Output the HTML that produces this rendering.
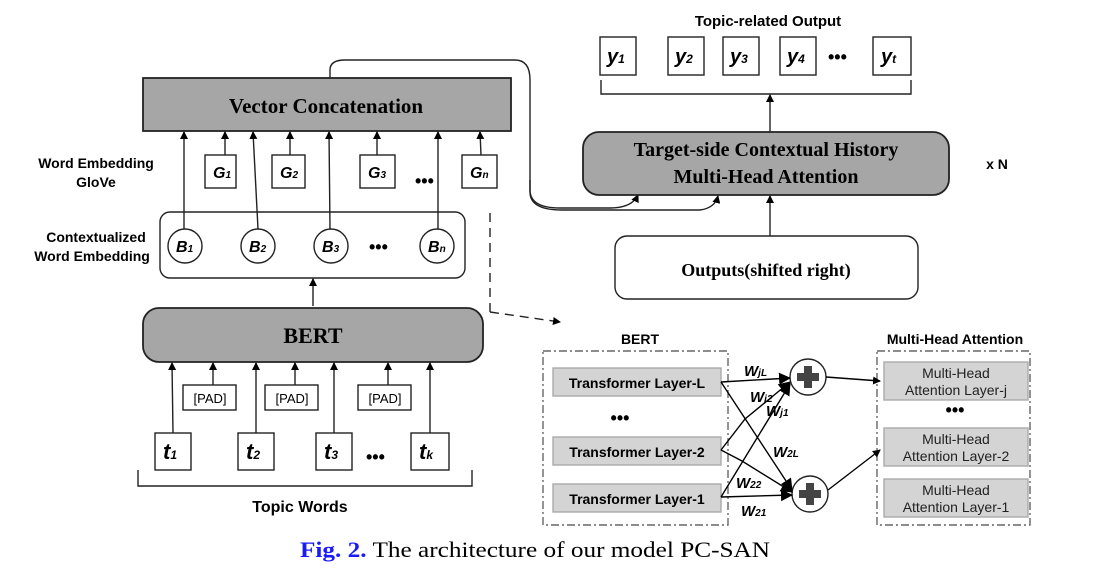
<!DOCTYPE html>
<html><head><meta charset="utf-8"><style>
html,body{margin:0;padding:0;background:#fff;}
svg{display:block;}
.s{font-family:"Liberation Sans",sans-serif;font-weight:bold;}
.t{font-family:"Liberation Serif",serif;font-weight:bold;}
.i{font-family:"Liberation Sans",sans-serif;font-weight:bold;font-style:italic;}
</style></head><body>
<svg width="1120" height="575" viewBox="0 0 1120 575" xmlns="http://www.w3.org/2000/svg">
<defs>
<marker id="a" markerWidth="8" markerHeight="8" refX="7" refY="4" orient="auto" markerUnits="userSpaceOnUse"><path d="M0,0 L8,4 L0,8 z" fill="#000"/></marker>
<marker id="b" markerWidth="12" markerHeight="12" refX="11" refY="6" orient="auto" markerUnits="userSpaceOnUse"><path d="M0,0 L12,6 L0,12 z" fill="#000"/></marker>
</defs>
<g stroke="#222" stroke-width="1.4" fill="none">
<rect x="143" y="78" width="368" height="53" fill="#a6a6a6" stroke-width="1.8"/>
<rect x="205" y="155" width="31" height="33" fill="#fff"/>
<rect x="272" y="155" width="33" height="33" fill="#fff"/>
<rect x="360" y="155" width="35" height="33" fill="#fff"/>
<rect x="462" y="155" width="35" height="33" fill="#fff"/>
<rect x="160" y="212" width="305" height="66" rx="10" fill="#fff"/>
<circle cx="185" cy="246" r="17" fill="#fff"/>
<circle cx="258" cy="246" r="17" fill="#fff"/>
<circle cx="331" cy="246" r="17" fill="#fff"/>
<circle cx="437" cy="246" r="17" fill="#fff"/>
<g marker-end="url(#a)">
<line x1="184" y1="229" x2="184" y2="132"/>
<line x1="258" y1="229" x2="253" y2="132"/>
<line x1="330" y1="229" x2="329" y2="132"/>
<line x1="438" y1="229" x2="438" y2="132"/>
<line x1="225" y1="155" x2="225" y2="132"/>
<line x1="290" y1="155" x2="290" y2="132"/>
<line x1="377" y1="155" x2="377" y2="132"/>
<line x1="481" y1="155" x2="480" y2="132"/>
<line x1="313" y1="306" x2="313" y2="279"/>
</g>
<rect x="143" y="308" width="340" height="54" rx="16" fill="#a6a6a6" stroke-width="1.8"/>
<rect x="183" y="385" width="53" height="25" fill="#fff"/>
<rect x="265" y="385" width="53" height="25" fill="#fff"/>
<rect x="358" y="385" width="53" height="25" fill="#fff"/>
<rect x="155" y="433" width="36" height="37" fill="#fff"/>
<rect x="238" y="433" width="36" height="37" fill="#fff"/>
<rect x="316" y="433" width="36" height="37" fill="#fff"/>
<rect x="411" y="433" width="38" height="37" fill="#fff"/>
<g marker-end="url(#a)">
<line x1="173" y1="433" x2="172" y2="363"/>
<line x1="256" y1="433" x2="256" y2="363"/>
<line x1="334" y1="433" x2="334" y2="363"/>
<line x1="430" y1="433" x2="430" y2="363"/>
<line x1="213" y1="385" x2="213" y2="363"/>
<line x1="295" y1="385" x2="295" y2="363"/>
<line x1="388" y1="385" x2="388" y2="363"/>
</g>
<path d="M138,470 V486 H472 V470"/>
<path d="M490,213 V312" stroke-dasharray="9,6"/>
<path d="M490,312 L560,322" stroke-dasharray="9,6" marker-end="url(#a)"/>
<path d="M330,78 V70 Q330,60 345,60 H515 Q530,60 530,80 V190 Q530,208 560,208 H610 Q632,208 638,195" marker-end="url(#a)"/>
<path d="M530,180 V192 Q530,210 562,210 H700 Q715,208 718,196" marker-end="url(#a)"/>
<rect x="600" y="37" width="36" height="38" fill="#fff"/>
<rect x="668" y="37" width="36" height="38" fill="#fff"/>
<rect x="723" y="37" width="36" height="38" fill="#fff"/>
<rect x="780" y="37" width="36" height="38" fill="#fff"/>
<rect x="873" y="37" width="38" height="38" fill="#fff"/>
<path d="M601,80 V94 H911 V80"/>
<line x1="770" y1="133" x2="770" y2="95" marker-end="url(#a)"/>
<rect x="583" y="132" width="366" height="63" rx="16" fill="#a6a6a6" stroke-width="1.8"/>
<rect x="615" y="236" width="303" height="63" rx="12" fill="#fff"/>
<line x1="770" y1="236" x2="770" y2="196" marker-end="url(#a)"/>
<rect x="543" y="351" width="185" height="174" stroke-dasharray="8,3,2,3" stroke="#666"/>
<rect x="877" y="351" width="153" height="174" stroke-dasharray="8,3,2,3" stroke="#666"/>
<rect x="553" y="368" width="168" height="28" fill="#d4d4d4" stroke="#aaa"/>
<rect x="553" y="437" width="168" height="28" fill="#d4d4d4" stroke="#aaa"/>
<rect x="553" y="484" width="168" height="28" fill="#d4d4d4" stroke="#aaa"/>
<rect x="884" y="362" width="144" height="38" fill="#d4d4d4" stroke="#aaa"/>
<rect x="884" y="428" width="144" height="38" fill="#d4d4d4" stroke="#aaa"/>
<rect x="884" y="479" width="144" height="38" fill="#d4d4d4" stroke="#aaa"/>
<circle cx="808" cy="377" r="18" fill="#fff"/>
<circle cx="810" cy="494" r="18" fill="#fff"/>
<g stroke="#000">
<line x1="721" y1="382" x2="790" y2="378" marker-end="url(#b)"/>
<line x1="721" y1="382" x2="792" y2="490" marker-end="url(#b)"/>
<polyline points="721,450 745,419 790,382" marker-end="url(#b)"/>
<polyline points="721,450 742,461 792,492" marker-end="url(#b)"/>
<line x1="721" y1="497" x2="790" y2="384" marker-end="url(#b)"/>
<line x1="721" y1="497" x2="792" y2="495" marker-end="url(#b)"/>
<line x1="826" y1="377" x2="880" y2="381" marker-end="url(#a)"/>
<line x1="828" y1="490" x2="880" y2="450" marker-end="url(#a)"/>
</g>
</g>
<g fill="#444"><rect x="797" y="373" width="22" height="8"/><rect x="804" y="366" width="8" height="22"/>
<rect x="799" y="490" width="22" height="8"/><rect x="806" y="483" width="8" height="22"/></g>
<text x="326" y="113" class="t" font-size="21" text-anchor="middle">Vector Concatenation</text>
<text x="313" y="343" class="t" font-size="22" text-anchor="middle">BERT</text>
<text x="766" y="156" class="t" font-size="20" text-anchor="middle">Target-side Contextual History</text>
<text x="766" y="183" class="t" font-size="20" text-anchor="middle">Multi-Head Attention</text>
<text x="766" y="276" class="t" font-size="18" text-anchor="middle">Outputs(shifted right)</text>
<g class="s" font-size="14" text-anchor="middle">
<text x="96" y="168">Word Embedding</text>
<text x="96" y="187">GloVe</text>
<text x="96" y="242">Contextualized</text>
<text x="92" y="261">Word Embedding</text>
<text x="300" y="512" font-size="16">Topic Words</text>
<text x="768" y="26" font-size="15">Topic-related  Output</text>
<text x="640" y="344" font-size="14">BERT</text>
<text x="955" y="344" font-size="14">Multi-Head Attention</text>
<text x="997" y="169" font-size="14">x N</text>
<text x="210" y="403" font-size="13" font-weight="normal">[PAD]</text>
<text x="292" y="403" font-size="13" font-weight="normal">[PAD]</text>
<text x="385" y="403" font-size="13" font-weight="normal">[PAD]</text>
<text x="637" y="388" font-size="14">Transformer Layer-L</text>
<text x="637" y="457" font-size="14">Transformer Layer-2</text>
<text x="637" y="504" font-size="14">Transformer Layer-1</text>
<text x="620" y="424" font-size="18">•••</text>
<text x="955" y="416" font-size="18">•••</text>
</g>
<g font-family="Liberation Sans,sans-serif" font-size="14" text-anchor="middle" fill="#222">
<text x="956" y="378">Multi-Head</text><text x="956" y="395">Attention Layer-j</text>
<text x="956" y="444">Multi-Head</text><text x="956" y="461">Attention Layer-2</text>
<text x="956" y="495">Multi-Head</text><text x="956" y="512">Attention Layer-1</text>
</g>
<g class="i" font-size="16">
<text x="213" y="178">G<tspan font-size="10">1</tspan></text>
<text x="280" y="178">G<tspan font-size="10">2</tspan></text>
<text x="368" y="178">G<tspan font-size="10">3</tspan></text>
<text x="470" y="178">G<tspan font-size="10">n</tspan></text>
<text x="176" y="252">B<tspan font-size="10">1</tspan></text>
<text x="249" y="252">B<tspan font-size="10">2</tspan></text>
<text x="322" y="252">B<tspan font-size="10">3</tspan></text>
<text x="428" y="252">B<tspan font-size="10">n</tspan></text>
<text x="163" y="459" font-size="22">t<tspan font-size="12">1</tspan></text>
<text x="246" y="459" font-size="22">t<tspan font-size="12">2</tspan></text>
<text x="324" y="459" font-size="22">t<tspan font-size="12">3</tspan></text>
<text x="419" y="459" font-size="22">t<tspan font-size="12">k</tspan></text>
<text x="607" y="63" font-size="20">y<tspan font-size="12">1</tspan></text>
<text x="675" y="63" font-size="20">y<tspan font-size="12">2</tspan></text>
<text x="730" y="63" font-size="20">y<tspan font-size="12">3</tspan></text>
<text x="787" y="63" font-size="20">y<tspan font-size="12">4</tspan></text>
<text x="881" y="63" font-size="20">y<tspan font-size="12">t</tspan></text>
<text x="744" y="376" font-size="15">W<tspan font-size="10">jL</tspan></text>
<text x="750" y="402" font-size="15">W<tspan font-size="10">j2</tspan></text>
<text x="766" y="416" font-size="15">W<tspan font-size="10">j1</tspan></text>
<text x="773" y="457" font-size="15">W<tspan font-size="10">2L</tspan></text>
<text x="736" y="488" font-size="15">W<tspan font-size="10">22</tspan></text>
<text x="741" y="516" font-size="15">W<tspan font-size="10">21</tspan></text>
</g>
<g class="s" font-size="18">
<text x="415" y="187">•••</text>
<text x="369" y="253">•••</text>
<text x="366" y="463">•••</text>
<text x="828" y="63">•••</text>
</g>
<text x="300" y="557" font-family="Liberation Serif,serif" font-size="22" textLength="470" lengthAdjust="spacingAndGlyphs"><tspan fill="#1a1aff" font-weight="bold">Fig. 2.</tspan> The architecture of our model PC-SAN</text>
</svg>
</body></html>
